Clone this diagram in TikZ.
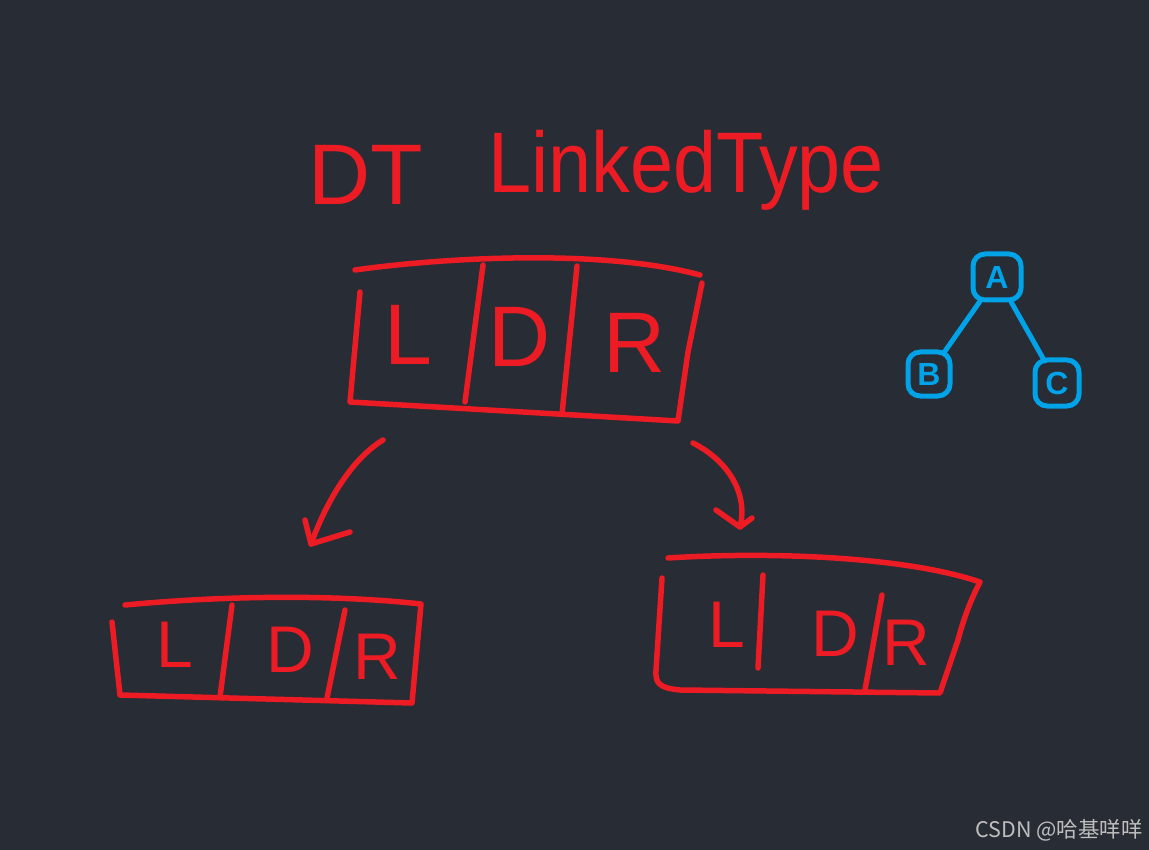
\documentclass[tikz,border=0pt]{standalone}
\usepackage{fontspec}
\setmainfont{Liberation Sans}
\newfontfamily\cjk{Noto Sans CJK SC}
\definecolor{bg}{RGB}{40,44,52}
\definecolor{pen}{RGB}{237,28,36}
\definecolor{blu}{RGB}{0,162,232}
\definecolor{mark}{RGB}{190,190,190}
\begin{document}
\begin{tikzpicture}[x=1pt,y=-1pt,
  ink/.style={draw=pen,line width=5.5pt,line cap=round,line join=round},
  bink/.style={draw=blu,line width=5pt,line cap=round,line join=round},
  title/.style={text=pen,font=\fontsize{86}{86}\selectfont,inner sep=0pt},
  bigl/.style={text=pen,font=\fontsize{86}{86}\selectfont,inner sep=0pt},
  smalll/.style={text=pen,font=\fontsize{66}{66}\selectfont,inner sep=0pt},
  tnode/.style={bink,rounded corners=12pt,minimum width=48pt,minimum height=46pt,inner sep=0pt,text=blu,font=\fontsize{32}{32}\selectfont\bfseries}]
\fill[bg] (0,0) rectangle (1149,850);
\useasboundingbox (0,0) rectangle (1149,850);

% title
\node[title] (dt) at (366,175) {DT};
\node[title,xscale=0.9] (lt) at (686,170) {LinkedType};

% top box
\draw[ink] (355,270) .. controls (440,258) and (600,248) .. (700,275);
\draw[ink] (702,283) -- (688,352) -- (678,421) -- (350,402) -- (360,292);
\draw[ink] (483,265) -- (465,402);
\draw[ink] (577,266) -- (562,414);
\node[bigl] (tL) at (408,335) {L};
\node[bigl] (tD) at (520,337) {D};
\node[bigl] (tR) at (635,343) {R};

% left arrow
\coordinate (a1s) at (383,440);
\coordinate (a1e) at (311,544);
\draw[ink] (a1s) .. controls (350,460) and (325,505) .. (a1e);
\draw[ink] (305,520) -- (a1e) -- (350,532);

% right arrow
\coordinate (a2s) at (693,443);
\coordinate (a2e) at (740,527);
\draw[ink] (a2s) .. controls (730,462) and (748,495) .. (a2e);
\draw[ink] (716,510) -- (a2e) -- (752,518);

% bottom-left box
\draw[ink] (125,605) .. controls (220,596) and (330,594) .. (421,604) -- (412,703) -- (120,695) -- (112,622);
\draw[ink] (232,605) -- (220,697);
\draw[ink] (345,610) -- (327,698);
\node[smalll] (lL) at (175,645) {L};
\node[smalll] (lD) at (290,650) {D};
\node[smalll] (lR) at (377,657) {R};

% bottom-right box
\draw[ink] (668,558) .. controls (760,552) and (900,555) .. (980,582) .. controls (968,605) and (962,625) .. (958,640) -- (940,693) -- (680,690) .. controls (660,688) and (655,684) .. (656,670) -- (662,578);
\draw[ink] (763,575) -- (758,668);
\draw[ink] (882,595) -- (865,690);
\node[smalll] (rL) at (727,625) {L};
\node[smalll] (rD) at (835,634) {D};
\node[smalll] (rR) at (906,643) {R};

% blue tree
\node[tnode] (A) at (997,277) {A};
\node[tnode,minimum width=42pt,minimum height=44pt] (B) at (929,374) {B};
\node[tnode,minimum width=44pt,minimum height=46pt] (C) at (1057,383) {C};
\draw[bink,shorten <=-2pt,shorten >=-4pt] (A) -- (B);
\draw[bink,shorten <=0pt,shorten >=-4pt] (A) -- (C);

% watermark
\node[anchor=base east,text=mark,inner sep=0pt,font=\cjk\fontsize{21.5}{21.5}\selectfont] (wm) at (1143,837) {CSDN @哈基咩咩};
\end{tikzpicture}
\end{document}
